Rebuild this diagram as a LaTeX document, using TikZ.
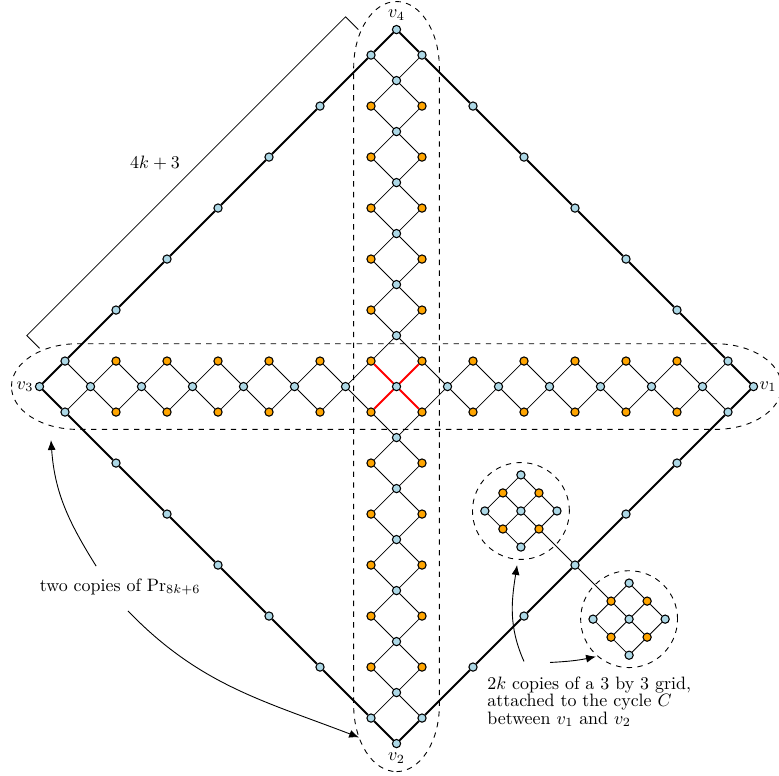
\documentclass[tikz,border=0pt]{standalone}
\usetikzlibrary{arrows.meta}
\definecolor{nblue}{HTML}{ADD8E6}
\definecolor{norange}{HTML}{FFA500}
\tikzset{
  bnode/.style={circle,draw,line width=0.6pt,fill=nblue,inner sep=0pt,minimum size=4.6pt},
  onode/.style={bnode,fill=norange},
  ledge/.style={line width=0.45pt},
  cedge/.style={line width=1.1pt},
  redge/.style={line width=1.1pt,red},
  enc/.style={dashed,line width=0.5pt},
  arr/.style={-{Latex[length=5.5pt,width=4.5pt]},line width=0.5pt},
}
\begin{document}
\begin{tikzpicture}[x=0.5cm,y=0.5cm]
\useasboundingbox (-15.55,-15.27) rectangle (15.0,15.16);
% enclosing oval shapes
\draw[enc] (-15.1,0) .. controls (-15.1,0.927) and (-13.935,1.68) .. (-12.5,1.68) -- (12.5,1.68)
  .. controls (13.935,1.68) and (15.1,0.927) .. (15.1,0)
  .. controls (15.1,-0.927) and (13.935,-1.68) .. (12.5,-1.68) -- (-12.5,-1.68)
  .. controls (-13.935,-1.68) and (-15.1,-0.927) .. (-15.1,0) -- cycle;
\draw[enc] (0,-15.1) .. controls (0.927,-15.1) and (1.68,-13.935) .. (1.68,-12.5) -- (1.68,12.5)
  .. controls (1.68,13.935) and (0.927,15.1) .. (0,15.1)
  .. controls (-0.927,15.1) and (-1.68,13.935) .. (-1.68,12.5) -- (-1.68,-12.5)
  .. controls (-1.68,-13.935) and (-0.927,-15.1) .. (0,-15.1) -- cycle;
\coordinate (gc1) at (4.879,-4.879);
\coordinate (gc2) at (9.121,-9.121);
\draw[enc] (gc1) circle (1.9);
\draw[enc] (gc2) circle (1.9);
% middle row / column
\foreach \i in {-7,...,7}{
  \pgfmathtruncatemacro\x{2*\i}
  \node[bnode] (p\x_0) at (\x,0) {};
}
\foreach \i in {-7,...,-1,1,2,...,7}{
  \pgfmathtruncatemacro\y{2*\i}
  \node[bnode] (p0_\y) at (0,\y) {};
}
% side rows of the horizontal ladder
\foreach \x in {-11,-9,...,11}{
  \foreach \s in {1,-1}{
    \node[onode] (p\x_\s) at (\x,\s) {};
  }
}
\foreach \x in {-13,13}{
  \foreach \s in {1,-1}{
    \node[bnode] (p\x_\s) at (\x,\s) {};
  }
}
% side columns of the vertical ladder
\foreach \y in {-11,-9,...,-3,3,5,...,11}{
  \foreach \s in {1,-1}{
    \node[onode] (p\s_\y) at (\s,\y) {};
  }
}
\foreach \y in {-13,13}{
  \foreach \s in {1,-1}{
    \node[bnode] (p\s_\y) at (\s,\y) {};
  }
}
% other cycle vertices
\foreach \x in {3,5,...,11}{
  \pgfmathtruncatemacro\y{14-\x}
  \node[bnode] (p\x_\y) at (\x,\y) {};
  \node[bnode] (p-\x_\y) at (-\x,\y) {};
  \node[bnode] (p\x_-\y) at (\x,-\y) {};
  \node[bnode] (p-\x_-\y) at (-\x,-\y) {};
}
% ladder edges
\foreach \x in {-13,-11,...,13}{
  \foreach \s in {1,-1}{
    \pgfmathtruncatemacro\l{\x-1}
    \pgfmathtruncatemacro\r{\x+1}
    \ifnum\x>-13 \ifnum\l=0 \else \draw[ledge] (p\x_\s) -- (p\l_0); \fi\fi
    \ifnum\x<13 \ifnum\r=0 \else \draw[ledge] (p\x_\s) -- (p\r_0); \fi\fi
  }
}
\foreach \y in {-13,-11,...,13}{
  \foreach \s in {1,-1}{
    \pgfmathtruncatemacro\d{\y-1}
    \pgfmathtruncatemacro\u{\y+1}
    \ifnum\y>-13 \ifnum\d=0 \else \draw[ledge] (p\s_\y) -- (p0_\d); \fi\fi
    \ifnum\y<13 \ifnum\u=0 \else \draw[ledge] (p\s_\y) -- (p0_\u); \fi\fi
  }
}
\foreach \a in {p1_1,p-1_1,p1_-1,p-1_-1}{ \draw[redge] (p0_0) -- (\a); }
% the cycle C
\draw[cedge] (p-14_0) -- (p-13_1) -- (p-11_3) -- (p-9_5) -- (p-7_7) -- (p-5_9) -- (p-3_11) -- (p-1_13) -- (p0_14)
  -- (p1_13) -- (p3_11) -- (p5_9) -- (p7_7) -- (p9_5) -- (p11_3) -- (p13_1) -- (p14_0)
  -- (p13_-1) -- (p11_-3) -- (p9_-5) -- (p7_-7) -- (p5_-9) -- (p3_-11) -- (p1_-13) -- (p0_-14)
  -- (p-1_-13) -- (p-3_-11) -- (p-5_-9) -- (p-7_-7) -- (p-9_-5) -- (p-11_-3) -- (p-13_-1) -- (p-14_0);
% the two 3 by 3 grids
\foreach \g/\c in {1/gc1,2/gc2}{
  \begin{scope}[shift={(\c)},rotate=45]
    \foreach \i/\j/\st in {0/0/bnode,1/1/bnode,1/-1/bnode,-1/1/bnode,-1/-1/bnode,1/0/onode,-1/0/onode,0/1/onode,0/-1/onode}{
      \node[\st] (g\g_\i_\j) at (\i,\j) {};
    }
    \foreach \j in {-1,0,1}{
      \draw[ledge] (g\g_-1_\j) -- (g\g_0_\j) -- (g\g_1_\j);
      \draw[ledge] (g\g_\j_-1) -- (g\g_\j_0) -- (g\g_\j_1);
    }
  \end{scope}
}
\draw[ledge] (g1_0_-1) -- (p7_-7);
\draw[ledge] (g2_0_1) -- (p7_-7);
% labels of v1..v4
\node[anchor=east,inner sep=0.6pt] (lv3) at (p-14_0.west) {$v_3$};
\node[anchor=west,inner sep=0.6pt] (lv1) at (p14_0.east) {$v_1$};
\node[anchor=south,inner sep=2.5pt] (lv4) at (p0_14.north) {$v_4$};
\node[anchor=north,inner sep=2.5pt] (lv2) at (p0_-14.south) {$v_2$};
% bracket 4k+3
\coordinate (b1) at (-14,1.5);
\coordinate (b2) at (-14.5,2);
\coordinate (b3) at (-2,14.5);
\coordinate (b4) at (-1.5,14);
\draw[ledge] (b1) -- (b2) -- (b3) -- (b4);
\node (lk) at (-9.47,8.76) {$4k+3$};
% annotations
\node (t1) at (-10.84,-7.86) {two copies of $\mathrm{Pr}_{8k+6}$};
\coordinate (a1s) at (-11.78,-7.04);
\coordinate (a1e) at (-13.55,-2.10);
\coordinate (a2s) at (-10.53,-8.80);
\coordinate (a2e) at (-1.47,-13.76);
\draw[arr] (a1s) to[out=122,in=-86] (a1e);
\draw[arr] (a2s) to[out=-46,in=159] (a2e);
\node[anchor=north west,inner sep=0pt,align=left] (t2) at (3.55,-11.36)
  {$2k$ copies of a 3 by 3 grid,\\[-2.3pt] attached to the cycle $C$\\[-2.3pt] between $v_1$ and $v_2$};
\coordinate (a3s) at (5.0,-10.78);
\coordinate (a3e) at (4.73,-7.0);
\coordinate (a4s) at (6.02,-10.82);
\coordinate (a4e) at (7.82,-10.59);
\draw[arr] (a3s) to[out=114,in=-99] (a3e);
\draw[arr] (a4s) to[out=3,in=192] (a4e);
\end{tikzpicture}
\end{document}
